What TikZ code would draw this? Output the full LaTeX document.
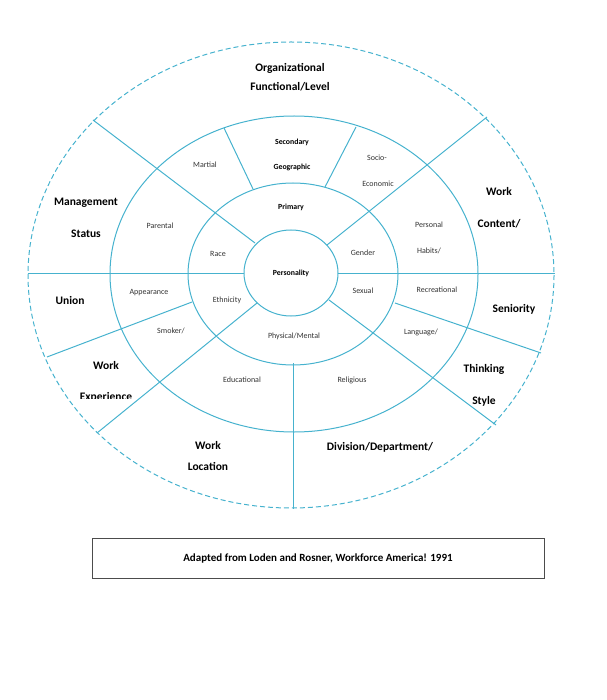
\documentclass[tikz,border=0pt]{standalone}
\usepackage{fontspec}
\setmainfont{Carlito}
\begin{document}
\begin{tikzpicture}[x=1pt,y=-1pt,
  ln/.style={draw=aqua,line width=1pt},
  big/.style={font=\fontsize{11.5}{13}\selectfont\bfseries},
  sm/.style={font=\fontsize{8}{9}\selectfont,text=black!80},
  smb/.style={font=\fontsize{7.8}{9}\selectfont\bfseries}]
\definecolor{aqua}{RGB}{70,178,206}
\useasboundingbox (0,0) rectangle (606,700);
\draw[ln,dashed,dash pattern=on 5pt off 3pt] (291,275) ellipse [x radius=263,y radius=233];
\draw[ln] (294,274) ellipse [x radius=184,y radius=158];
\draw[ln] (293,274) ellipse [x radius=105,y radius=91];
\draw[ln] (291,273) ellipse [x radius=47,y radius=43];
\coordinate (a1) at (93,120); \coordinate (a2) at (255,243);
\coordinate (b1) at (487,117); \coordinate (b2) at (327,245);
\coordinate (h1) at (28,273); \coordinate (h2) at (244,273);
\coordinate (h3) at (338,273); \coordinate (h4) at (555,273);
\coordinate (s1) at (224,128); \coordinate (s2) at (253,189);
\coordinate (s3) at (356,127); \coordinate (s4) at (325,187);
\coordinate (c1) at (47,357); \coordinate (c2) at (192,302);
\coordinate (d1) at (97,433); \coordinate (d2) at (257,303);
\coordinate (v1) at (293.5,363); \coordinate (v2) at (293.5,509);
\coordinate (e1) at (329,300); \coordinate (e2) at (496,425);
\coordinate (f1) at (395,303); \coordinate (f2) at (541,353);
\foreach \p/\q in {a1/a2,b1/b2,h1/h2,h3/h4,s1/s2,s3/s4,c1/c2,d1/d2,v1/v2,e1/e2,f1/f2}
  \draw[ln] (\p) -- (\q);
\node[big] (org1) at (290,68) {Organizational};
\node[big] (org2) at (290,87) {Functional/Level};
\node[big] (man1) at (86,203) {Management};
\node[big] (man2) at (86,234) {Status};
\node[big] (wc1) at (499,192) {Work};
\node[big] (wc2) at (499,224) {Content/};
\node[big] (un) at (70,301) {Union};
\node[big] (sen) at (514,309) {Seniority};
\node[big] (we1) at (106,366) {Work};
\begin{scope}
\clip (40,385) rectangle (200,398);
\node[big] (we2) at (106,397) {Experience};
\end{scope}
\node[big] (th1) at (484,369) {Thinking};
\node[big] (th2) at (484,401) {Style};
\node[big] (wl1) at (208,446) {Work};
\node[big] (wl2) at (208,466) {Location};
\node[big] (div) at (380,447) {Division/Department/};
\node[smb] (sec1) at (292,142) {Secondary};
\node[smb] (sec2) at (292,167) {Geographic};
\node[sm] (mar) at (205,165) {Martial};
\node[sm] (soc1) at (377,158) {Socio-};
\node[sm] (soc2) at (378,184) {Economic};
\node[sm] (par) at (160,226) {Parental};
\node[sm] (per1) at (429,225) {Personal};
\node[sm] (per2) at (429,251) {Habits/};
\node[smb] (pri) at (291,207) {Primary};
\node[sm] (race) at (218,254) {Race};
\node[sm] (gen) at (363,253) {Gender};
\node[smb] (pers) at (291,273) {Personality};
\node[sm] (eth) at (227,300) {Ethnicity};
\node[sm] (sex) at (363,291) {Sexual};
\node[sm] (app) at (149,293) {Appearance};
\node[sm] (rec) at (437,290) {Recreational};
\node[sm] (smk) at (171,331) {Smoker/};
\node[sm] (lang) at (421,332) {Language/};
\node[sm] (phy) at (294,336) {Physical/Mental};
\node[sm] (edu) at (242,380) {Educational};
\node[sm] (rel) at (352,380) {Religious};
\node[draw=black!70,line width=0.6pt,minimum width=452pt,minimum height=40pt,
  font=\fontsize{11}{13}\selectfont\bfseries] (cap) at (318,558)
  {Adapted from Loden and Rosner, Workforce America! 1991};
\end{tikzpicture}
\end{document}
